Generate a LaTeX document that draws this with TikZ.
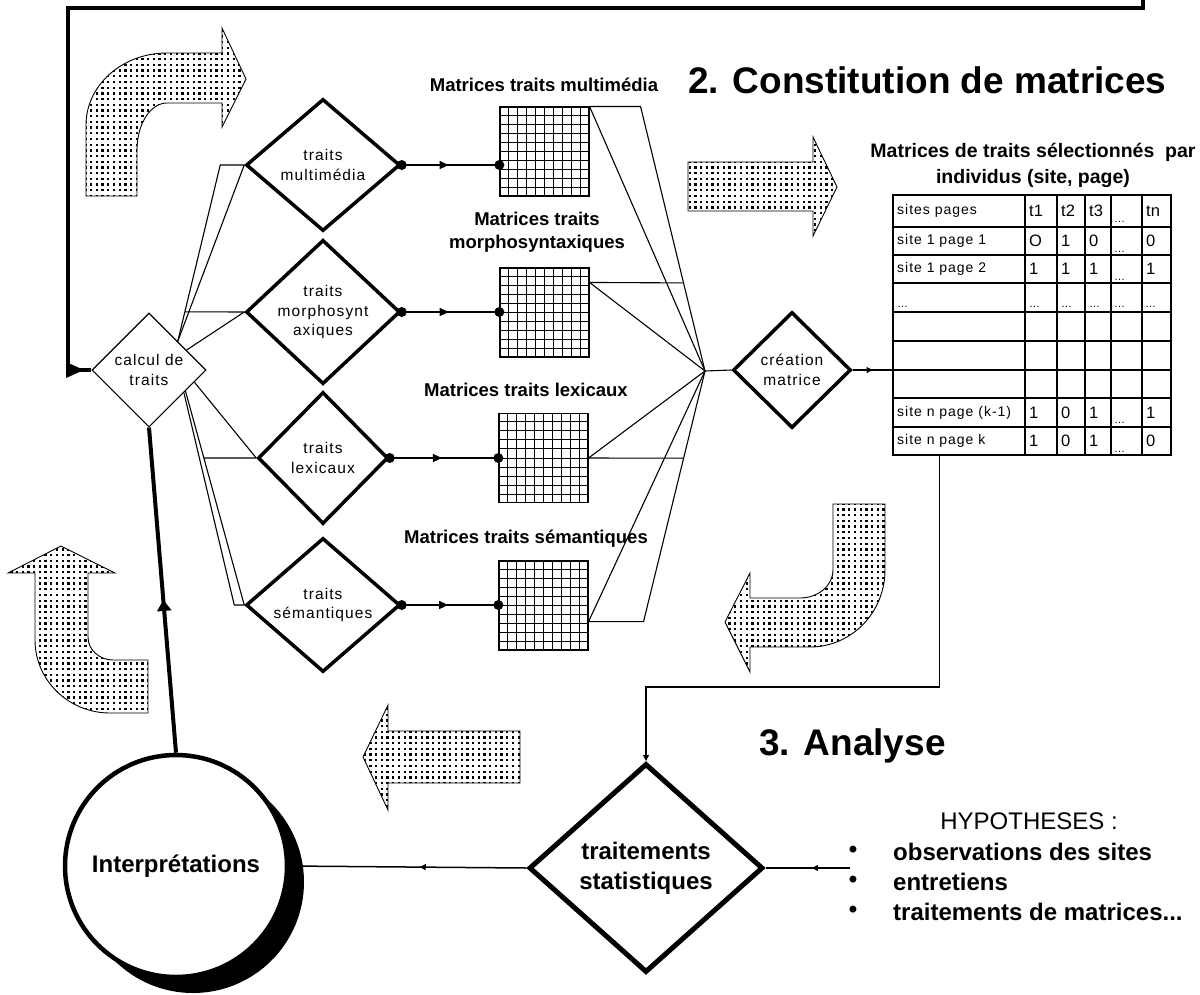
\documentclass[tikz,border=0pt]{standalone}
\usepackage{fontspec}
\setmainfont{Liberation Sans}
\newfontfamily\spfont[LetterSpace=7]{Liberation Sans}
\usetikzlibrary{shapes.geometric,arrows.meta,decorations.markings,calc,patterns}
\pgfdeclarepatternformonly{bigdots}{\pgfpoint{-2pt}{-2pt}}{\pgfpoint{2pt}{2pt}}{\pgfpoint{5.7pt}{5.7pt}}{\pgfpathrectangle{\pgfpoint{-1.15pt}{-1.15pt}}{\pgfpoint{2.3pt}{2.3pt}}\pgfusepath{fill}}
\begin{document}
\begin{tikzpicture}[x=1pt,y=-1pt,
  thinln/.style={line width=1.1pt},
  tdiam/.style={diamond, draw, line width=3.5pt, inner sep=0pt, align=center,
    font=\spfont\fontsize{15.5}{19.5}\selectfont},
  calcd/.style={diamond, draw, line width=1.1pt, inner sep=0pt, align=center,
    minimum width=114pt, minimum height=114pt, font=\spfont\fontsize{15.5}{19.5}\selectfont},
  gridbox/.style={draw, line width=1.1pt, minimum size=89pt, inner sep=0pt},
  gtitle/.style={font=\bfseries\fontsize{18.5}{23}\selectfont, align=center, inner sep=0pt},
  dotarrow/.style={draw, line width=0.9pt, pattern=bigdots},
  flow/.style={line width=1.3pt, postaction={decorate}, decoration={markings,
     mark=at position 0 with {\fill circle[radius=5pt];},
     mark=at position 0.48 with {\arrow{Triangle[length=9pt,width=8pt]}},
     mark=at position 0.999 with {\fill circle[radius=5pt];}}},
  midarr/.style={postaction={decorate}, decoration={markings,
     mark=at position #1 with {\arrow{Triangle[length=6pt,width=6pt]}}}},
  bigarr/.style={postaction={decorate}, decoration={markings,
     mark=at position #1 with {\arrow{Triangle[length=11pt,width=14pt]}}}},
  cellt/.style={anchor=west, inner sep=0pt, font=\spfont\fontsize{14}{16}\selectfont},
  celld/.style={anchor=west, inner sep=0pt, font=\fontsize{16.5}{18}\selectfont},
  celle/.style={anchor=base west, inner sep=0pt, font=\fontsize{11}{13}\selectfont},
  bigtxt/.style={font=\bfseries\fontsize{24}{30}\selectfont, inner sep=0pt},
]
\useasboundingbox (0,0) rectangle (1200,994);

% ---------- dotted block arrows ----------
\draw[dotarrow] (86,196) -- (86,125) .. controls (86,85.2) and (122.3,53) .. (167,53)
  -- (222,53) -- (222,28) -- (246,79) -- (222,127) -- (222,103) -- (167,103)
  .. controls (150.4,103) and (137,124) .. (137,150) -- (137,196) -- cycle;
\draw[dotarrow] (688,162) -- (813,162) -- (813,137) -- (837,187) -- (813,236)
  -- (813,211) -- (688,211) -- cycle;
\draw[dotarrow] (833,504) -- (885,504) -- (885,570) .. controls (885,612.5) and (851.4,647) .. (810,647)
  -- (750,647) -- (750,672) -- (725,622) -- (750,573) -- (750,598) -- (800,598)
  .. controls (818.2,598) and (833,585.5) .. (833,570) -- cycle;
\draw[dotarrow] (35,573) -- (8,573) -- (61,546) -- (115,573) -- (88,573) -- (88,637)
  .. controls (88,649.7) and (99.2,660) .. (113,660) -- (148,660) -- (148,713) -- (110,713)
  .. controls (68.6,713) and (35,680.3) .. (35,640) -- cycle;
\draw[dotarrow] (520,731) -- (388,731) -- (388,705) -- (363,757) -- (388,810)
  -- (388,783) -- (520,783) -- cycle;

% ---------- titles ----------
\node[anchor=base west, inner sep=0pt, font=\bfseries\fontsize{37}{40}\selectfont] (h2) at (688,93) {2. Constitution de matrices};
\node[anchor=base west, inner sep=0pt, font=\bfseries\fontsize{37}{40}\selectfont] (h3) at (759,755) {3. Analyse};

% ---------- diamonds ----------
\node[calcd] (calc) at (149,370) {calcul de\\traits};
\node[tdiam, minimum width=154pt, minimum height=132pt] (d1) at (323,165) {traits\\multimédia};
\node[tdiam, minimum width=154pt, minimum height=132pt] (d2) at (323,312) {traits\\morphosynt\\axiques};
\node[tdiam, minimum width=130pt, minimum height=132pt] (d3) at (323,458) {traits\\lexicaux};
\node[tdiam, minimum width=154pt, minimum height=134pt] (d4) at (323,605) {traits\\sémantiques};
\node[tdiam, minimum width=118pt, minimum height=116pt] (crea) at (792,370) {création\\matrice};
\node[diamond, draw, line width=5pt, inner sep=0pt, align=center, minimum width=234pt, minimum height=209pt,
  font=\bfseries\fontsize{24}{30}\selectfont] (trait) at (646,868) {traitements\\statistiques};

% ---------- grids ----------
\node[gridbox] (g1) at (544.5,151.5) {};
\node[gridbox] (g2) at (544.5,312.5) {};
\node[gridbox] (g3) at (543.5,458) {};
\node[gridbox] (g4) at (543.5,605.5) {};
\foreach \g in {g1,g2,g3,g4}{
  \foreach \i in {1,...,9}{
    \draw[line width=1pt] ($(\g.north west)!\i/10!(\g.north east)$) -- ($(\g.south west)!\i/10!(\g.south east)$);
    \draw[line width=1pt] ($(\g.north west)!\i/10!(\g.south west)$) -- ($(\g.north east)!\i/10!(\g.south east)$);
  }
}
\node[gtitle] (t1) at (544,85) {Matrices traits multimédia};
\node[gtitle] (t2) at (537,232) {Matrices traits\\morphosyntaxiques};
\node[gtitle] (t3) at (526,390) {Matrices traits lexicaux};
\node[gtitle] (t4) at (526,539) {Matrices traits sémantiques};

% ---------- diamond -> grid flows ----------
\draw[flow] (d1.east) -- (g1.west |- d1.east);
\draw[flow] (d2.east) -- (g2.west |- d2.east);
\draw[flow] (d3.east) -- (g3.west |- d3.east);
\draw[flow] (d4.east) -- (g4.west |- d4.east);

% ---------- left fan ----------
\path (d1.west) ++(-24,0) coordinate (k1);
\draw[thinln] (calc.north east) -- (k1) -- (d1.west);
\draw[thinln] (calc.north east) -- (d1.west);
\coordinate (j2) at ($(calc.north east)!0.167!(k1)$);
\draw[thinln] (j2) -- (d2.west);
\draw[thinln] (calc.28) -- (d2.west);
\draw[thinln] (calc.-15) -- (d3.west);
\draw[thinln] (calc.-30) -- (d4.west);
\coordinate (j3) at ($(calc.-30)!0.313!(d4.west)$);
\draw[thinln] (j3) -- (d3.west);
\path (d4.west) ++(-10,0) coordinate (k4);
\draw[thinln] (calc.-33) -- (k4) -- (d4.west);

% ---------- right fan ----------
\coordinate (P) at (705,371);
\path (g1.north east) ++(51,0) coordinate (m1);
\draw[thinln] (g1.north east) -- (m1) -- (P);
\draw[thinln] (g1.north east) -- (P);
\coordinate (g2o) at ($(g2.north east)+(0,15)$);
\draw[thinln] (g2o) -- (P);
\draw[thinln] (g2o) -- ($(m1)!0.667!(P)$);
\coordinate (g4o) at ($(g4.south east)+(0,-29)$);
\path (g4o) ++(55,0) coordinate (m4);
\draw[thinln] (g4o) -- (m4) -- (P);
\draw[thinln] (g4o) -- (P);
\draw[thinln] (g3.east) -- (P);
\draw[thinln] (g3.east) -- ($(m4)!0.652!(P)$);
\draw[thinln] (P) -- (crea.west);

% ---------- table ----------
\node[draw, line width=1.5pt, minimum width=278pt, minimum height=260pt, inner sep=0pt] (tab) at (1032,325) {};
\foreach \x in {1025,1057,1085,1111,1142} \draw[line width=1.2pt] (\x,195) -- (\x,455);
\foreach \y in {227,255,283,312,341,370,398,427} \draw[line width=1.2pt] (893,\y) -- (1171,\y);
\foreach [count=\i] \y/\lab/\va/\vb/\vc/\vd in {211/sites pages/t1/t2/t3/tn, 241/site 1 page 1/O/1/0/0,
   269/site 1 page 2/1/1/1/1, 412.5/site n page (k-1)/1/0/1/1, 441/site n page k/1/0/1/0}{
  \node[cellt] (rl\i) at (897,\y) {\lab};
  \node[celld] (ra\i) at (1029,\y) {\va};
  \node[celld] (rb\i) at (1061,\y) {\vb};
  \node[celld] (rc\i) at (1089,\y) {\vc};
  \node[celle] (rd\i) at (1114,\y+11) {…};
  \node[celld] (re\i) at (1146,\y) {\vd};
}
\foreach [count=\i] \x in {897,1029,1061,1089,1114,1145} \node[celle] (rx\i) at (\x,307) {…};
\node[font=\bfseries\fontsize{19.5}{26}\selectfont, align=center, inner sep=0pt] (ttl) at (1033,165)
  {Matrices de traits sélectionnés\ \ par\\individus (site, page)};

\draw[thinln, midarr=0.5] (crea.east) -- (crea.east -| tab.west);
\draw[thinln, -{Triangle[length=6pt,width=6pt]}] ($(tab.south west)+(47,0)$) |- ($(trait.north)+(0,-74)$) -- (trait.north);

% ---------- frame connector ----------
\draw[line width=4pt] (calc.west) -- (68,370) -- (68,8) -- (1143,8) -- (1143,0);
\fill (66,362) -- (84,370) -- (66,378) -- cycle;

% ---------- interpretations ----------
\fill (193,882) circle[radius=111pt];
\node[circle, draw, fill=white, line width=4.5pt, minimum size=222pt, inner sep=0pt,
  font=\bfseries\fontsize{24}{30}\selectfont] (interp) at (176,866) {Interprétations};
\draw[line width=4pt, bigarr=0.47] (interp.north) -- (calc.south);
\draw[line width=1.5pt, midarr=0.45] (trait.west) -- (interp.east);

% ---------- hypotheses ----------
\node[font=\fontsize{24}{30}\selectfont, inner sep=0pt] (hyp) at (1029,821) {HYPOTHESES :};
\node[bigtxt] (b1) at (853,852) {•};
\node[bigtxt] (b2) at (853,882) {•};
\node[bigtxt] (b3) at (853,912) {•};
\node[bigtxt, anchor=west] (i1) at (893,852) {observations des sites};
\node[bigtxt, anchor=west] (i2) at (893,882) {entretiens};
\node[bigtxt, anchor=west] (i3) at (893,912) {traitements de matrices...};
\coordinate (hl) at (850,868);
\draw[line width=1.3pt, midarr=0.45] (hl) -- (trait.east);
\end{tikzpicture}
\end{document}
